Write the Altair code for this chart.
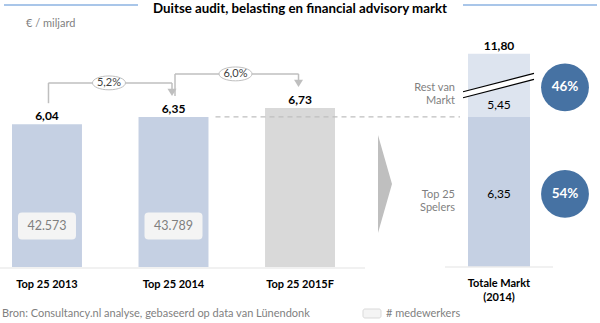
import altair as alt
import pandas as pd

# ---------------- data ----------------
categories = ["Top 25 2013", "Top 25 2014", "Top 25 2015F"]
kind = ["actual", "actual", "forecast"]
market_bn = [6.04, 6.35, 6.73]
employees = [42573, 43789, None]

growth_from = ["Top 25 2013", "Top 25 2014"]
growth_to = ["Top 25 2014", "Top 25 2015F"]
growth_pct = [5.2, 6.0]

total_cat = "Totale Markt\n(2014)"
segment_kind = ["top", "rest"]
segment_names = ["Top 25\nSpelers", "Rest van\nMarkt"]
segment_bn = [6.35, 5.45]
total_bn = 11.80

title_text = "Duitse audit, belasting en financial advisory markt"
unit_text = "€ / miljard"
source_text = "Bron: Consultancy.nl analyse, gebaseerd op data van Lünendonk"
legend_text = "# medewerkers"

# ---------------- style / layout ----------------
FONT = "Lato"
W, H = 600, 323
PX_PER_BN = 23.64
BASE_Y = 267
Y_MIN = -(H - BASE_Y) / PX_PER_BN
Y_MAX = BASE_Y / PX_PER_BN
BREAK = 0.49  # axis-break compression of the "rest" segment

BLUE = "#c5d0e3"
LIGHT = "#dde4ef"
GRAY_BAR = "#d9d9d9"
LINE = "#bfbfbf"
CIRCLE = "#4672a3"
TXT_GRAY = "#7f7f7f"

ELLIPSE = ("M-1,0 C-1,-0.232 -0.552,-0.42 0,-0.42 C0.552,-0.42 1,-0.232 1,0 "
           "C1,0.232 0.552,0.42 0,0.42 C-0.552,0.42 -1,0.232 -1,0 Z")
RRECT = ("M-0.86,-0.466 L0.86,-0.466 Q1,-0.466 1,-0.326 L1,0.326 Q1,0.466 0.86,0.466 "
         "L-0.86,0.466 Q-1,0.466 -1,0.326 L-1,-0.326 Q-1,-0.466 -0.86,-0.466 Z")
TRI = "M-1,-0.8 L1,-0.8 L0,0.8 Z"
CHEVRON = "M-0.143,-1 L0.143,0 L-0.143,1 Z"

# ---------------- tables ----------------
val = dict(zip(categories, market_bn))
bars_df = pd.DataFrame({"cat": categories, "kind": kind, "v": market_bn,
                        "emp": employees, "y0": 0.0})
growth_df = pd.DataFrame({"from": growth_from, "to": growth_to, "g": growth_pct,
                          "v_from": [val[c] for c in growth_from],
                          "v_to": [val[c] for c in growth_to]})
seg_y0 = [0.0, segment_bn[0]]
seg_y1 = [segment_bn[0], segment_bn[0] + segment_bn[1] * BREAK]
total_df = pd.DataFrame({"tcat": total_cat, "kind": segment_kind, "name": segment_names,
                         "v": segment_bn, "y0": seg_y0, "y1": seg_y1, "total": total_bn})
total_df["mid"] = (total_df["y0"] + total_df["y1"]) / 2
total_df["zero"] = 0.0
one = pd.DataFrame({"a": [0]})

YS = alt.Scale(domain=[Y_MIN, Y_MAX], nice=False, zero=False)


def Y(f):
    return alt.Y(f + ":Q", scale=YS, axis=None)


def XL(f):
    return alt.X(f + ":N", sort=categories, bandPosition=0.5,
                 scale=alt.Scale(domain=categories, range=[12, 335],
                                 paddingInner=0.447, paddingOuter=0),
                 axis=None)


XR = alt.X("tcat:N", bandPosition=0.5,
           scale=alt.Scale(domain=[total_cat], range=[468, 530],
                           paddingInner=0, paddingOuter=0), axis=None)
XRbar = alt.X("tcat:N", scale=alt.Scale(domain=[total_cat], range=[468, 530],
                                        paddingInner=0, paddingOuter=0), axis=None)
XLbar = alt.X("cat:N", sort=categories,
              scale=alt.Scale(domain=categories, range=[12, 335],
                              paddingInner=0.447, paddingOuter=0), axis=None)
X2R = alt.X2("tcat:N", bandPosition=0.5)
COL = alt.Color("kind:N", scale=alt.Scale(domain=["actual", "forecast", "top", "rest"],
                                          range=[BLUE, GRAY_BAR, BLUE, LIGHT]), legend=None)

# ---------------- left panel ----------------
lb = alt.Chart(bars_df).transform_calculate(
    lbl="replace(format(datum.v, '.2f'), '.', ',')",
    elbl="isValid(datum.emp) ? replace(format(datum.emp, ','), ',', '.') : ''")

bars = lb.mark_bar().encode(x=XLbar, y=Y("v"), y2="y0:Q", color=COL)
dash = lb.transform_filter(alt.datum.cat == growth_to[0]).mark_rule(
    color=LINE, strokeDash=[5, 4], strokeWidth=1.2, xOffset=42).encode(
    x=XL("cat"), x2=alt.value(460), y=Y("v"))
vlab = lb.mark_text(font=FONT, fontSize=12, fontWeight="bold", color="black",
                    baseline="alphabetic", dy=-4).encode(x=XL("cat"), y=Y("v"), text="lbl:N")
xlab = lb.mark_text(font=FONT, fontSize=11, fontWeight="bold", color="black",
                    baseline="top", dy=12).encode(x=XL("cat"), y=Y("y0"), text="cat:N")
ebox = lb.transform_filter("isValid(datum.emp) && isFinite(datum.emp)").mark_point(
    shape=RRECT, size=3364, filled=True, fill="#f4f4f4", opacity=1, strokeWidth=0,
    yOffset=-41).encode(x=XL("cat"), y=Y("y0"))
etxt = lb.transform_filter("isValid(datum.emp) && isFinite(datum.emp)").mark_text(
    font=FONT, fontSize=12.5, color=TXT_GRAY, baseline="middle", dy=-41).encode(
    x=XL("cat"), y=Y("y0"), text="elbl:N")

gb = alt.Chart(growth_df).transform_calculate(
    glbl="replace(format(datum.g, '.1f'), '.', ',') + '%'")
g_up = gb.mark_rule(color=LINE, strokeWidth=1.5, xOffset=1.5, yOffset=-21, y2Offset=-34).encode(
    x=XL("from"), y=Y("v_from"), y2="v_to:Q")
g_h = gb.mark_rule(color=LINE, strokeWidth=1.5, yOffset=-34, xOffset=1.5, x2Offset=-1.5).encode(
    x=XL("from"), x2=alt.X2("to:N", bandPosition=0.5), y=Y("v_to"))
g_down = gb.mark_rule(color=LINE, strokeWidth=1.5, xOffset=-1.5, yOffset=-34, y2Offset=-27).encode(
    x=XL("to"), y=Y("v_to"), y2="v_to:Q")
g_arrow = gb.mark_point(shape=TRI, size=81, filled=True, color=LINE, opacity=1,
                        xOffset=-1.5, yOffset=-24.6).encode(x=XL("to"), y=Y("v_to"))
g_ell = gb.mark_point(shape=ELLIPSE, size=1089, filled=True, fill="white", stroke=LINE,
                      strokeWidth=1, opacity=1, xOffset=62, yOffset=-34).encode(
    x=XL("from"), y=Y("v_to"))
g_txt = gb.mark_text(font=FONT, fontSize=11, color="#404040", baseline="middle",
                     dx=62, dy=-34).encode(x=XL("from"), y=Y("v_to"), text="glbl:N")

left = alt.layer(bars, dash, vlab, xlab, ebox, etxt, g_up, g_h, g_down, g_arrow, g_ell, g_txt)

# ---------------- right panel ----------------
rb = alt.Chart(total_df).transform_calculate(
    lbl="replace(format(datum.v, '.2f'), '.', ',')",
    tlbl="replace(format(datum.total, '.2f'), '.', ',')",
    share="format(datum.v / datum.total, '.0%')")

segs = rb.mark_bar().encode(x=XRbar, y=Y("y1"), y2="y0:Q", color=COL)
rbase = rb.transform_filter(alt.datum.kind == "top").mark_rule(
    color="#ececec", strokeWidth=1.5, xOffset=-54, x2Offset=54).encode(
    x=XR, x2=X2R, y=Y("zero"))
in_top = rb.transform_filter(alt.datum.kind == "top").mark_text(
    font=FONT, fontSize=12, color="black", baseline="middle", dy=2).encode(
    x=XR, y=Y("mid"), text="lbl:N")
in_rest = rb.transform_filter(alt.datum.kind == "rest").mark_text(
    font=FONT, fontSize=12, color="black", baseline="middle", dy=-12).encode(
    x=XR, y=Y("y0"), text="lbl:N")
tot = rb.transform_filter(alt.datum.kind == "rest").mark_text(
    font=FONT, fontSize=12, fontWeight="bold", color="black", baseline="alphabetic",
    dy=-4).encode(x=XR, y=Y("y1"), text="tlbl:N")
names = rb.mark_text(font=FONT, fontSize=11, color=TXT_GRAY, align="right",
                     baseline="middle", dx=-44, dy=3, lineBreak="\n", lineHeight=13).encode(
    x=XR, y=Y("mid"), text="name:N")
circ = rb.mark_circle(size=2290, color=CIRCLE, opacity=1, xOffset=66, yOffset=2).encode(
    x=XR, y=Y("mid"))
ctxt = rb.mark_text(font=FONT, fontSize=13.5, fontWeight="bold", color="white",
                    baseline="middle", dx=66, dy=2).encode(x=XR, y=Y("mid"), text="share:N")
xlab_r = rb.transform_filter(alt.datum.kind == "top").mark_text(
    font=FONT, fontSize=11, fontWeight="bold", color="black", baseline="top", dy=11,
    lineBreak="\n", lineHeight=14).encode(x=XR, y=Y("zero"), text="tcat:N")
rest_only = rb.transform_filter(alt.datum.kind == "rest")
brk_w = rest_only.mark_rule(color="white", strokeWidth=6, xOffset=-36, x2Offset=35,
                            yOffset=9.4, y2Offset=-9).encode(x=XR, x2=X2R, y=Y("mid"), y2="mid:Q")
brk_a = rest_only.mark_rule(color="black", strokeWidth=1.2, xOffset=-36, x2Offset=35,
                            yOffset=6.4, y2Offset=-12).encode(x=XR, x2=X2R, y=Y("mid"), y2="mid:Q")
brk_b = rest_only.mark_rule(color="black", strokeWidth=1.2, xOffset=-36, x2Offset=35,
                            yOffset=12.4, y2Offset=-6).encode(x=XR, x2=X2R, y=Y("mid"), y2="mid:Q")

right = alt.layer(segs, rbase, in_top, in_rest, tot, brk_w, brk_a, brk_b, names, circ, ctxt, xlab_r)

# ---------------- decorations ----------------
d = alt.Chart(one)
t_line_l = d.mark_rule(color="#8db3e2", strokeWidth=1.5).encode(
    x=alt.value(4), x2=alt.value(138), y=alt.value(5))
t_line_r = d.mark_rule(color="#8db3e2", strokeWidth=1.5).encode(
    x=alt.value(463), x2=alt.value(597), y=alt.value(5))
t_txt = d.mark_text(font=FONT, fontSize=13.3, fontWeight="bold", color="black",
                    baseline="middle").encode(x=alt.value(300), y=alt.value(9), text=alt.value(title_text))
u_txt = d.mark_text(font=FONT, fontSize=11, color=TXT_GRAY, align="left",
                    baseline="middle").encode(x=alt.value(26), y=alt.value(24), text=alt.value(unit_text))
base_l = d.mark_rule(color="#ececec", strokeWidth=1.5).encode(
    x=alt.value(0), x2=alt.value(365), y=alt.value(268))
chev = d.mark_point(shape=CHEVRON, size=9604, filled=True, color=LINE, opacity=1).encode(
    x=alt.value(385), y=alt.value(184))
s_txt = d.mark_text(font=FONT, fontSize=11, color=TXT_GRAY, align="left",
                    baseline="middle").encode(x=alt.value(2), y=alt.value(314), text=alt.value(source_text))
lg_box = d.mark_rect(fill="#f4f4f4", stroke="#d9d9d9", strokeWidth=1, cornerRadius=2).encode(
    x=alt.value(363), x2=alt.value(381), y=alt.value(309), y2=alt.value(318))
lg_txt = d.mark_text(font=FONT, fontSize=11, color=TXT_GRAY, align="left",
                     baseline="middle").encode(x=alt.value(386), y=alt.value(314), text=alt.value(legend_text))

deco = alt.layer(base_l, chev, t_line_l, t_line_r, t_txt, u_txt, s_txt, lg_box, lg_txt)

chart = alt.layer(deco, left, right).resolve_scale(x="independent").properties(
    width=W, height=H, padding=0, autosize=alt.AutoSizeParams(type="none")
).configure_view(stroke=None)

chart.save("out.html", embed_options={"renderer": "svg", "actions": False})
